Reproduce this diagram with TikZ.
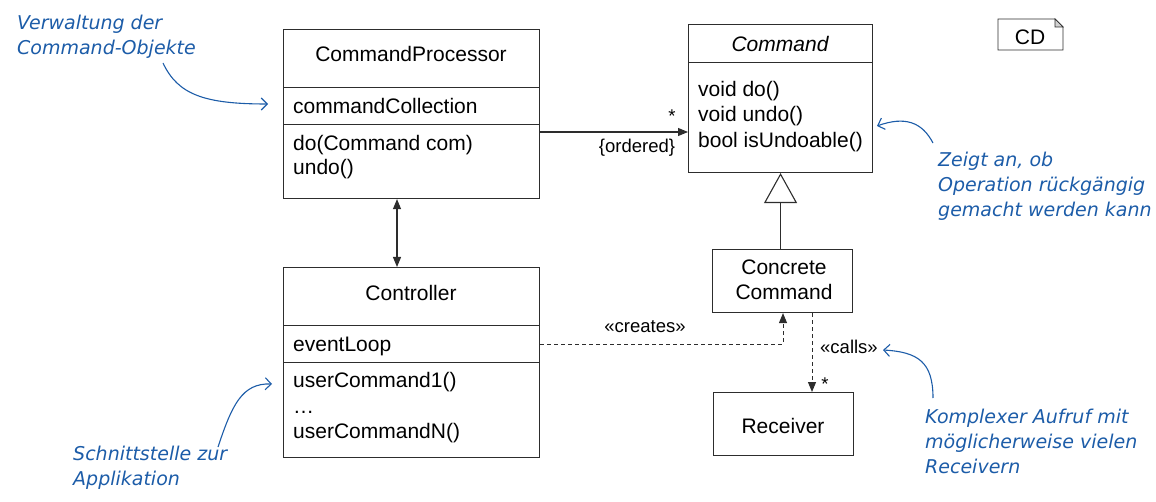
\documentclass[tikz,border=0pt]{standalone}
\usepackage{fontspec}
\setmainfont{Liberation Sans}
\newfontfamily\annotfont{DejaVu Sans}
\usetikzlibrary{arrows.meta,calc}
\definecolor{annblue}{RGB}{28,92,168}
\definecolor{linegray}{RGB}{45,45,45}
\begin{document}
\begin{tikzpicture}[x=1pt,y=-1pt,
 box/.style={draw=linegray, line width=1.1pt, fill=white, inner sep=0pt, anchor=north west},
 txt/.style={inner sep=0pt, font=\fontsize{21}{25}\selectfont},
 lbl/.style={inner sep=0pt, font=\fontsize{18.5}{22}\selectfont},
 ann/.style={inner sep=0pt, align=left, anchor=base west, text=annblue, font=\annotfont\itshape\fontsize{19}{25}\selectfont},
 annarrow/.style={draw=annblue, line width=1.1pt, -{Straight Barb[length=6pt,width=12pt]}},
 conn/.style={draw=linegray, line width=1.1pt},
 assoc/.style={conn, -{Triangle[length=10pt,width=8pt]}},
 dep/.style={conn, line width=1pt, dash pattern=on 4pt off 3pt, -{Triangle[length=10pt,width=8pt]}},
]
\useasboundingbox (0,0) rectangle (1156,502);

% CommandProcessor
\node[box, minimum width=256pt, minimum height=58pt] (cpName) at (283,29) {};
\node[box, minimum width=256pt, minimum height=37pt] (cpAttr) at (283,87) {};
\node[box, minimum width=256pt, minimum height=74pt] (cpOps) at (283,124) {};
\node[txt, anchor=base] (cpT) at (411,62) {CommandProcessor};
\node[txt, anchor=base west] (cpA) at (293,114) {commandCollection};
\node[txt, anchor=base west] (cpO1) at (293,151) {do(Command com)};
\node[txt, anchor=base west] (cpO2) at (293,175) {undo()};

% Controller
\node[box, minimum width=256pt, minimum height=58pt] (ctlName) at (283,267) {};
\node[box, minimum width=256pt, minimum height=37pt] (ctlAttr) at (283,325) {};
\node[box, minimum width=256pt, minimum height=95pt] (ctlOps) at (283,362) {};
\node[txt, anchor=base] (ctlT) at (411,301) {Controller};
\node[txt, anchor=base west] (ctlA) at (293,352) {eventLoop};
\node[txt, anchor=base west] (ctlO1) at (293,387) {userCommand1()};
\node[txt, anchor=base west] (ctlO2) at (293,413) {\dots};
\node[txt, anchor=base west] (ctlO3) at (293,438) {userCommandN()};

% Command
\node[box, minimum width=184pt, minimum height=38pt] (cmdName) at (688,24) {};
\node[box, minimum width=184pt, minimum height=110pt] (cmdOps) at (688,62) {};
\node[txt, anchor=base] (cmdT) at (780,52) {\itshape Command};
\node[txt, anchor=base west] (cmdO1) at (698,97) {void do()};
\node[txt, anchor=base west] (cmdO2) at (698,122) {void undo()};
\node[txt, anchor=base west] (cmdO3) at (698,148) {bool isUndoable()};

% Concrete Command
\node[box, minimum width=140pt, minimum height=63pt] (ccmd) at (712,249) {};
\node[txt, anchor=base] (ccT1) at (784,275) {Concrete};
\node[txt, anchor=base] (ccT2) at (784,300) {Command};

% Receiver
\node[box, minimum width=140pt, minimum height=63pt] (recv) at (713,392) {};
\node[txt, anchor=base] (rcT) at (783,433) {Receiver};

% CD note
\draw[conn, line width=0.9pt] (998,19) -- (1055,19) -- (1063,27) -- (1063,50) -- (998,50) -- cycle;
\filldraw[draw=linegray, fill=gray!35, line width=0.7pt] (1055,19) -- (1063,27) -- (1055,27) -- cycle;
\node[txt, anchor=base] (cd) at (1030,45) {CD};

% connectors
\draw[assoc] ($(cpOps.north west)+(256,8)$) coordinate (asS) -- (asS -| cmdOps.west);
\node[lbl, anchor=base] (star1) at (672,123) {*};
\node[lbl, anchor=base] (ord) at (637,153) {\{ordered\}};

\draw[conn, {Triangle[length=10pt,width=8pt]}-{Triangle[length=10pt,width=8pt]}]
  ($(cpOps.south west)+(114,0)$) -- ($(ctlName.north west)+(114,0)$);

\draw[conn, -{Triangle[open, length=30pt, width=33pt]}] (cmdOps.south |- ccmd.north) -- (cmdOps.south);

\draw[dep] (ctlAttr.east) -| ($(ccmd.south west)+(71,0)$);
\node[lbl, anchor=base] (cre) at (645,333) {«creates»};

\draw[dep] ($(ccmd.south west)+(100,0)$) coordinate (clS) -- (clS |- recv.north);
\node[lbl, anchor=base west] (cal) at (820,353) {«calls»};
\node[lbl, anchor=base] (star2) at (825,390) {*};

% annotations (anchor = baseline of last line)
\node[ann] (an1) at (17,55) {Verwaltung der\\Command-Objekte};
\node[ann] (an2) at (938,217) {Zeigt an, ob\\Operation rückgängig\\gemacht werden kann};
\node[ann] (an3) at (925,473) {Komplexer Aufruf mit\\möglicherweise vielen\\Receivern};
\node[ann] (an4) at (73,485) {Schnittstelle zur\\Applikation};

\coordinate (a1s) at (163,63);
\coordinate (a1e) at (268,104);
\draw[annarrow] (a1s) .. controls (178,95) and (205,104) .. (a1e);
\coordinate (a2s) at (933,143);
\coordinate (a2e) at (877,126);
\draw[annarrow] (a2s) .. controls (922,122) and (905,116) .. (a2e);
\coordinate (a3s) at (933,398);
\coordinate (a3e) at (883,350);
\draw[annarrow] (a3s) .. controls (933,362) and (918,352) .. (a3e);
\coordinate (a4s) at (218,447);
\coordinate (a4e) at (272,384);
\draw[annarrow] (a4s) .. controls (232,405) and (242,383) .. (a4e);
\end{tikzpicture}
\end{document}
